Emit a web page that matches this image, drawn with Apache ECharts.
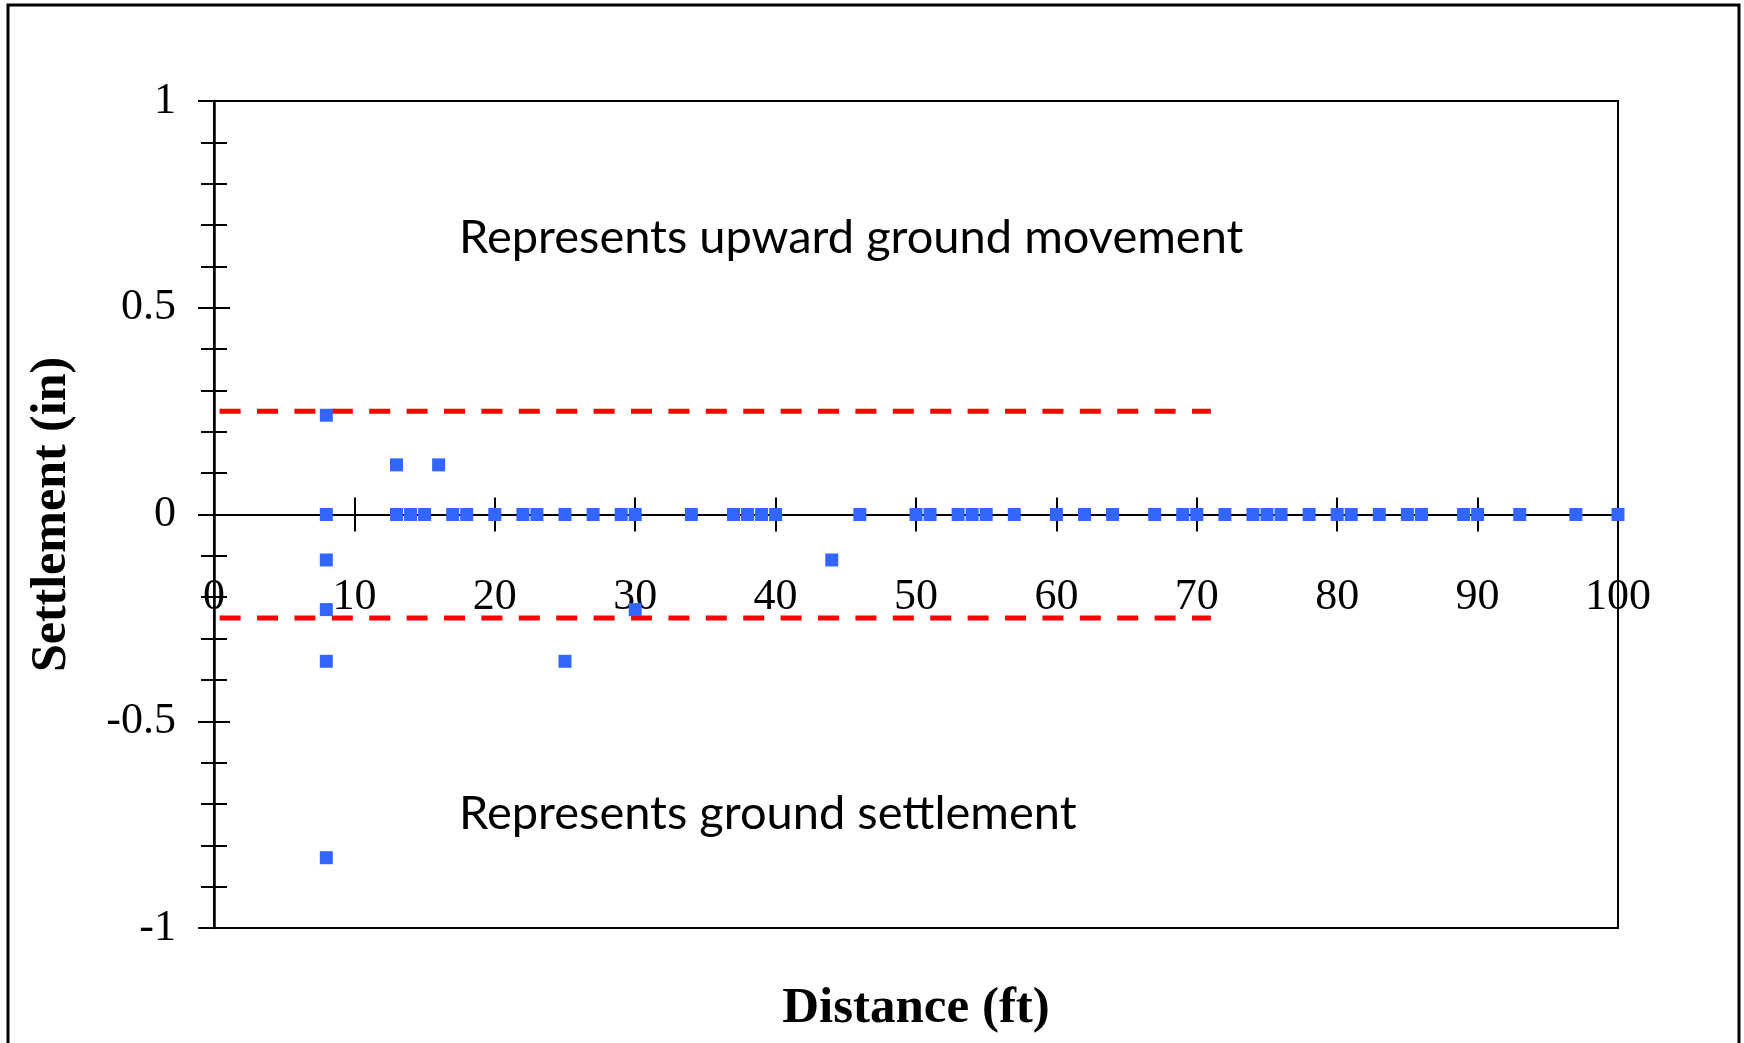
<!DOCTYPE html>
<html>
<head>
<meta charset="utf-8">
<script src="https://cdn.jsdelivr.net/npm/echarts@6/dist/echarts.min.js"></script>
<style>
  html, body { margin: 0; padding: 0; background: #ffffff; }
  #chart { width: 1744px; height: 1043px; }
</style>
</head>
<body>
<div id="chart"></div>
<script>
// Survey points: horizontal distance from the work (ft) and measured settlement (in)
const distance = [
  8, 8, 8, 8, 8, 8,
  13, 13, 14, 15, 16, 17, 18, 20, 22, 23,
  25, 25, 27, 29, 30, 30,
  34, 37, 38, 39, 40, 44, 46,
  50, 51, 53, 54, 55, 57, 60, 62, 64, 67, 69, 70,
  72, 74, 75, 76, 78, 80, 81, 83, 85, 86, 89, 90, 93, 97, 100
];
const settlement = [
  0.24, 0, -0.11, -0.23, -0.355, -0.83,
  0.12, 0, 0, 0, 0.12, 0, 0, 0, 0, 0,
  0, -0.355, 0, 0, 0, -0.23,
  0, 0, 0, 0, 0, -0.11, 0,
  0, 0, 0, 0, 0, 0, 0, 0, 0, 0, 0, 0,
  0, 0, 0, 0, 0, 0, 0, 0, 0, 0, 0, 0, 0, 0, 0
];

// Tolerance band (+/- 0.25 in) and the distance range it is drawn over
const limitX = [0.4, 71];
const upperLimit = 0.25;
const lowerLimit = -0.25;

// Axis tick values
const xTicks = [0, 10, 20, 30, 40, 50, 60, 70, 80, 90, 100];
const yTicks = [-1, -0.5, 0, 0.5, 1];

const SERIF = '"Liberation Serif", "Times New Roman", serif';
const SANS = 'Lato, "Open Sans", sans-serif';

const points = distance.map((d, i) => [d, settlement[i]]);
const upperLine = limitX.map(x => [x, upperLimit]);
const lowerLine = limitX.map(x => [x, lowerLimit]);

const xRange = {
  type: 'value',
  min: xTicks[0],
  max: xTicks[xTicks.length - 1],
  interval: xTicks[1] - xTicks[0],
  splitLine: { show: false }
};
const yRange = {
  type: 'value',
  min: yTicks[0],
  max: yTicks[yTicks.length - 1],
  interval: yTicks[1] - yTicks[0],
  splitLine: { show: false },
  minorSplitLine: { show: false }
};
const tickLine = { color: '#000', width: 2 };
const limitStyle = { color: '#ff0000', width: 5, type: [21, 16.4], cap: 'butt' };

const chart = echarts.init(document.getElementById('chart'), null, { renderer: 'canvas' });

chart.setOption({
  backgroundColor: '#ffffff',
  animation: false,
  grid: {
    left: 214, top: 101, width: 1404, height: 827,
    containLabel: false,
    outerBoundsMode: 'none',
    show: true,
    borderColor: '#000',
    borderWidth: 2,
    backgroundColor: 'transparent'
  },
  xAxis: [
    Object.assign({}, xRange, {
      position: 'bottom',
      axisLine: { show: true, onZero: true, onZeroAxisIndex: 0, lineStyle: { color: '#000', width: 2 } },
      axisTick: { show: true, inside: false, length: 17, lineStyle: tickLine },
      // tick labels sit just under the zero line
      axisLabel: { show: true, margin: -353, color: '#000', fontFamily: SERIF, fontSize: 44 },
      name: 'Distance (ft)',
      nameLocation: 'middle',
      nameGap: 55,
      nameMoveOverlap: false,
      nameTextStyle: { color: '#000', fontFamily: SERIF, fontSize: 51, fontWeight: 'bold' }
    }),
    // upper half of the crossing ticks on the zero line
    Object.assign({}, xRange, {
      position: 'top',
      axisLine: { show: false, onZero: true, onZeroAxisIndex: 0 },
      axisTick: { show: true, inside: false, length: 17, lineStyle: tickLine },
      axisLabel: { show: false }
    })
  ],
  yAxis: [
    Object.assign({}, yRange, {
      position: 'left',
      axisLine: { show: true, onZero: true, onZeroAxisIndex: 0, lineStyle: { color: '#000', width: 2.5 } },
      axisTick: { show: true, inside: false, length: 16, lineStyle: tickLine },
      minorTick: { show: true, splitNumber: 5, length: 13, lineStyle: tickLine },
      axisLabel: { show: true, margin: 38, color: '#000', fontFamily: SERIF, fontSize: 44 },
      name: 'Settlement (in)',
      nameLocation: 'middle',
      nameRotate: 90,
      nameGap: 137,
      nameMoveOverlap: false,
      nameTextStyle: { color: '#000', fontFamily: SERIF, fontSize: 50, fontWeight: 'bold' }
    }),
    // right-hand half of the crossing ticks on the vertical axis
    Object.assign({}, yRange, {
      position: 'right',
      axisLine: { show: false, onZero: true, onZeroAxisIndex: 0 },
      axisTick: { show: true, inside: false, length: 16, lineStyle: tickLine },
      minorTick: { show: true, splitNumber: 5, length: 13, lineStyle: tickLine },
      axisLabel: { show: false }
    })
  ],
  series: [
    {
      name: 'Upper limit',
      type: 'line',
      xAxisIndex: 0, yAxisIndex: 0,
      data: upperLine,
      showSymbol: false,
      symbol: 'none',
      silent: true,
      z: 2,
      lineStyle: limitStyle
    },
    {
      name: 'Lower limit',
      type: 'line',
      xAxisIndex: 0, yAxisIndex: 0,
      data: lowerLine,
      showSymbol: false,
      symbol: 'none',
      silent: true,
      z: 2,
      lineStyle: limitStyle
    },
    {
      name: 'Settlement',
      type: 'scatter',
      xAxisIndex: 0, yAxisIndex: 0,
      data: points,
      symbol: 'rect',
      symbolSize: 13,
      z: 3,
      itemStyle: { color: '#3366ff', opacity: 1 }
    }
  ],
  graphic: [
    {
      type: 'rect',
      silent: true,
      shape: { x: 8, y: 5, width: 1731, height: 1100 },
      style: { fill: 'none', stroke: '#000', lineWidth: 3 }
    },
    {
      type: 'text',
      silent: true,
      x: 459, y: 238,
      style: {
        text: 'Represents upward ground movement',
        fontFamily: SANS, fontSize: 47, fill: '#000',
        align: 'left', verticalAlign: 'middle'
      }
    },
    {
      type: 'text',
      silent: true,
      x: 459, y: 814,
      style: {
        text: 'Represents ground settlement',
        fontFamily: SANS, fontSize: 47, fill: '#000',
        align: 'left', verticalAlign: 'middle'
      }
    }
  ]
});
</script>
</body>
</html>
